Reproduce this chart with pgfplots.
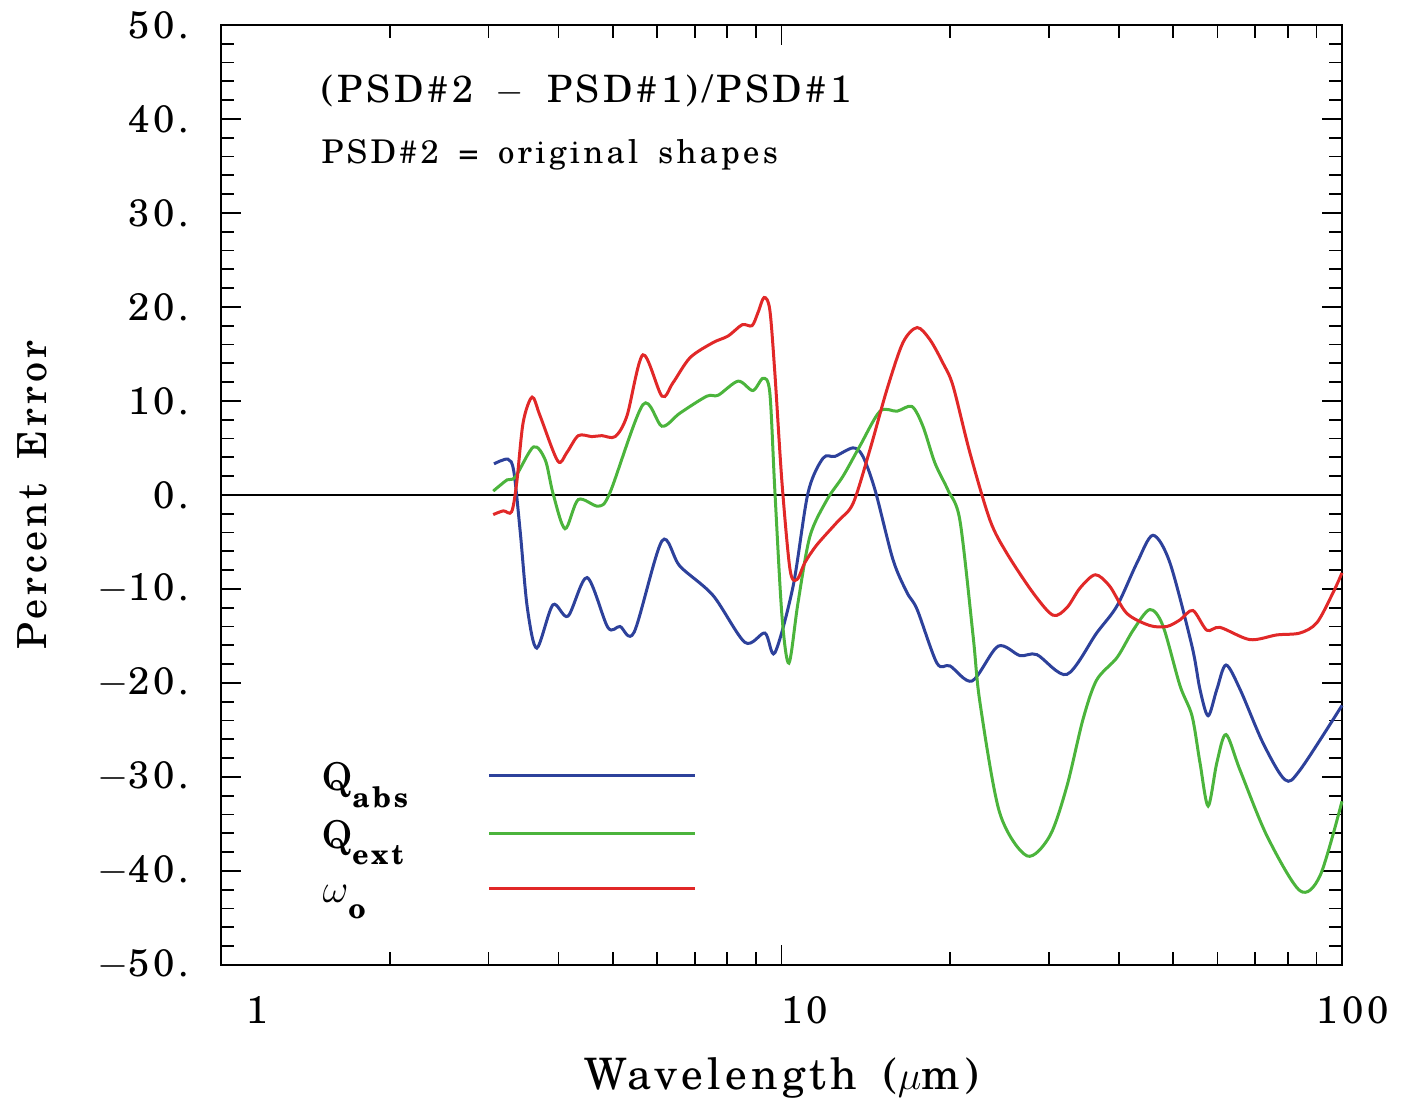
\documentclass[border=0pt]{standalone}
\usepackage{fontspec}
\IfFontExistsTF{texgyreschola-regular.otf}{%
  \setmainfont{texgyreschola-regular.otf}[BoldFont=texgyreschola-bold.otf, ItalicFont=texgyreschola-italic.otf, LetterSpace=10, WordSpace=1.6]}{%
  \setmainfont{lmroman10-regular.otf}[BoldFont=lmroman10-bold.otf, ItalicFont=lmroman10-italic.otf, LetterSpace=12, WordSpace=1.6]}
\usepackage{pgfplots}
\pgfplotsset{compat=1.18}

\definecolor{cabs}{RGB}{45,65,155}
\definecolor{cext}{RGB}{75,180,60}
\definecolor{comg}{RGB}{225,40,40}

\begin{document}
\begin{tikzpicture}
\begin{axis}[
  scale only axis,
  width=336.3pt, height=282pt,
  xmode=log,
  xmin=1, xmax=100,
  ymin=-50, ymax=50,
  xtick={1,10,100}, xticklabels={1,10,100},
  ytick={-50,-40,-30,-20,-10,0,10,20,30,40,50},
  yticklabels={$-$50.,$-$40.,$-$30.,$-$20.,$-$10.,0.,10.,20.,30.,40.,50.},
  minor y tick num=4,
  tick align=inside,
  xtick pos=both, ytick pos=both,
  major tick length=6pt, minor tick length=3.8pt,
  axis line style={line width=0.6pt},
  every tick/.style={black, line width=0.5pt},
  tick label style={font=\fontsize{11.5}{14}\selectfont},
  xticklabel style={anchor=north east, xshift=17.5pt, yshift=-6pt},
  yticklabel style={anchor=east, xshift=-6pt},
  xlabel={Wavelength ($\mu$m)},
  ylabel={Percent Error},
  xlabel style={font=\fontsize{13}{15}\selectfont, at={(axis description cs:0.5,-0.120)}, anchor=center},
  ylabel style={font=\fontsize{12}{14}\selectfont, at={(axis description cs:-0.168,0.5)}, anchor=center},
  clip=false,
]
\addplot[black, line width=0.45pt] coordinates {(1,0) (100,0)};

% Q_abs
\addplot[cabs, line width=0.9pt, smooth] coordinates {
(3.07,3.3) (3.25,3.8) (3.33,2.5) (3.42,-4) (3.52,-12) (3.66,-16.3) (3.91,-11.7)
(4.16,-12.9) (4.50,-8.8) (4.90,-14.1) (5.15,-14.0) (5.46,-14.6) (6.12,-4.9)
(6.59,-7.6) (7.55,-10.7) (8.61,-15.7) (9.34,-14.7) (9.73,-16.8) (10.49,-9.7)
(11.15,0.2) (11.86,3.9) (12.46,4.1) (13.42,5.0) (13.97,4.1) (14.69,0.5)
(15.81,-6.9) (16.75,-10.4) (17.46,-12.2) (18.94,-17.9) (19.99,-18.2)
(21.88,-19.8) (24.34,-16.1) (26.64,-17.1) (28.56,-17.0) (32.3,-19.1)
(36.5,-14.7) (39.7,-11.8) (43.1,-7.2) (46.0,-4.3) (49.3,-7.2) (54.0,-16.1)
(55.8,-20.7) (57.7,-23.5) (59.8,-20.7) (62.1,-18.1) (65.8,-20.7) (72.3,-26.4)
(79.1,-30.3) (84.1,-29.3) (100,-22.4)
};

% Q_ext
\addplot[cext, line width=0.9pt, smooth] coordinates {
(3.06,0.4) (3.24,1.6) (3.35,1.9) (3.61,5.1) (3.79,3.7) (3.91,0.2) (4.11,-3.6)
(4.34,-0.5) (4.71,-1.2) (4.94,0.2) (5.66,9.6) (6.12,7.3) (6.59,8.7)
(7.36,10.5) (7.71,10.6) (8.37,12.1) (8.89,11.1) (9.27,12.4) (9.53,10.9)
(9.73,0.5) (10.02,-12.9) (10.31,-17.9) (10.70,-11.5) (11.24,-4.4)
(12.06,-0.5) (12.88,2.0) (13.80,5.2) (14.99,8.9) (16.07,8.9) (17.09,9.4)
(17.88,7.3) (18.78,3.4) (19.82,0.5) (20.81,-2.7) (21.97,-15.0) (22.6,-22.1)
(24.5,-33.8) (27.4,-38.4) (30.1,-36.3) (32.3,-31.0) (34.5,-23.9) (36.5,-19.7)
(39.7,-17.3) (42.4,-14.4) (45.4,-12.2) (47.9,-13.9) (51.4,-20.3) (54.0,-23.5)
(55.8,-28.5) (57.7,-33.1) (59.8,-28.5) (62.1,-25.5) (65.8,-29.3) (73.5,-36.3)
(84.1,-42.1) (91.4,-40.5) (100,-32.6)
};

% omega_o
\addplot[comg, line width=0.9pt, smooth] coordinates {
(3.06,-2.1) (3.19,-1.7) (3.30,-1.8) (3.37,1.3) (3.46,7.7) (3.59,10.4)
(3.71,8.4) (3.99,3.6) (4.14,4.5) (4.34,6.3) (4.59,6.2) (4.78,6.3) (5.05,6.2)
(5.30,8.4) (5.66,14.9) (6.12,10.5) (6.40,11.9) (6.87,14.6) (7.55,16.2)
(8.03,16.9) (8.51,18.1) (8.86,18.0) (9.08,19.4) (9.31,21.0) (9.53,19.7)
(9.73,13.0) (10.02,1.3) (10.36,-8.0) (10.66,-9.0) (11.01,-7.2) (11.57,-5.3)
(12.61,-2.8) (13.42,-0.9) (14.38,4.8) (15.42,11.2) (16.47,16.2) (17.46,17.8)
(18.41,16.5) (19.42,14.0) (20.23,11.6) (21.68,4.5) (23.55,-2.7) (25.23,-6.2)
(28.09,-10.4) (30.5,-12.8) (32.3,-12.0) (34.1,-9.9) (36.3,-8.5) (38.5,-9.7)
(41.3,-12.6) (45.4,-13.9) (48.7,-14.0) (51.4,-13.3) (54.2,-12.3) (57.4,-14.4)
(60.6,-14.1) (68.5,-15.4) (76.5,-14.9) (84.1,-14.7) (90.2,-13.6) (96.4,-10.4)
(100,-8.3)
};

% legend lines
\addplot[cabs, line width=0.9pt] coordinates {(3.01,-29.9) (7.01,-29.9)};
\addplot[cext, line width=0.9pt] coordinates {(3.01,-36.0) (7.01,-36.0)};
\addplot[comg, line width=0.9pt] coordinates {(3.01,-41.9) (7.01,-41.9)};

\node[anchor=base west, inner sep=0pt, font=\fontsize{11.5}{13}\selectfont]
  at (axis cs:1.514,-31.5) {Q\raisebox{-0.9ex}{\fontsize{8.5}{9}\selectfont\bfseries abs}};
\node[anchor=base west, inner sep=0pt, font=\fontsize{11.5}{13}\selectfont]
  at (axis cs:1.514,-37.6) {Q\raisebox{-0.9ex}{\fontsize{8.5}{9}\selectfont\bfseries ext}};
\node[anchor=base west, inner sep=0pt, font=\fontsize{11.5}{13}\selectfont]
  at (axis cs:1.514,-43.4) {$\omega$\raisebox{-0.9ex}{\fontsize{8.5}{9}\selectfont\bfseries o}};

\node[anchor=base west, inner sep=0pt, font=\fontsize{11.3}{13}\selectfont]
  at (axis cs:1.508,41.7) {(PSD\#2 $-$ PSD\#1)/PSD\#1};
\node[anchor=base west, inner sep=0pt, font=\fontsize{9.8}{12}\selectfont]
  at (axis cs:1.508,35.3) {PSD\#2 = original shapes};
\end{axis}
\path[use as bounding box] ([shift={(-66.3pt,-40.8pt)}]current axis.south west)
  rectangle ([shift={(18.3pt,6.6pt)}]current axis.north east);
\end{tikzpicture}
\end{document}
